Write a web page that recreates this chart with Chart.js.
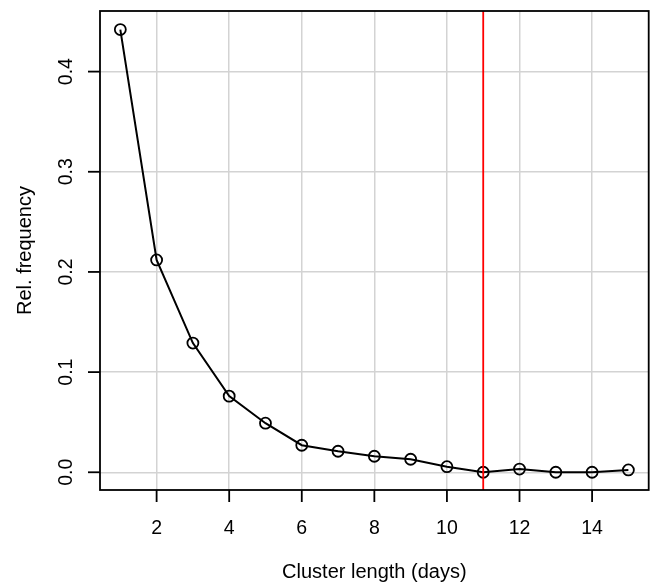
<!DOCTYPE html>
<html><head><meta charset="utf-8">
<script src="https://cdn.jsdelivr.net/npm/chart.js@4/dist/chart.umd.min.js"></script>
<style>html,body{margin:0;padding:0;background:#fff}#wrap{width:656px;height:584px}</style>
</head><body><div id="wrap"><canvas id="c" width="656" height="584"></canvas></div>
<script>
const clusterLength = [1,2,3,4,5,6,7,8,9,10,11,12,13,14,15];
const relFrequency = [0.442,0.212,0.129,0.076,0.049,0.027,0.021,0.016,0.013,0.0056,0.0,0.0032,0.0,0.0,0.0023];
const xTicks = [2,4,6,8,10,12,14];
const yTicks = [0.0,0.1,0.2,0.3,0.4];
const yTickLabels = ["0.0","0.1","0.2","0.3","0.4"];
const cutoff = 11;
const xTitle = "Cluster length (days)";
const yTitle = "Rel. frequency";

const FONT = '"Liberation Sans", Arial, Helvetica, sans-serif';

const rPlot = {
  id: 'rPlot',
  afterDatasetsDraw(chart) {
    const {ctx, chartArea: a, scales: {x, y}} = chart;
    ctx.save();
    const rx = x.getPixelForValue(cutoff);
    ctx.strokeStyle = '#ff0000'; ctx.lineWidth = 1.8;
    ctx.beginPath(); ctx.moveTo(rx, a.top); ctx.lineTo(rx, a.bottom); ctx.stroke();
    ctx.strokeStyle = '#000'; ctx.lineWidth = 1.8;
    ctx.strokeRect(a.left, a.top, a.right - a.left, a.bottom - a.top);
    ctx.fillStyle = '#000';
    ctx.font = '19.5px ' + FONT;
    ctx.textAlign = 'center'; ctx.textBaseline = 'middle';
    xTicks.forEach(v => {
      const px = x.getPixelForValue(v);
      ctx.beginPath(); ctx.moveTo(px, a.bottom); ctx.lineTo(px, a.bottom + 12); ctx.stroke();
      ctx.fillText(String(v), px, a.bottom + 39);
    });
    yTicks.forEach((v, i) => {
      const py = y.getPixelForValue(v);
      ctx.beginPath(); ctx.moveTo(a.left, py); ctx.lineTo(a.left - 12, py); ctx.stroke();
      ctx.save(); ctx.translate(a.left - 33, py); ctx.rotate(-Math.PI / 2);
      ctx.fillText(yTickLabels[i], 0, 0); ctx.restore();
    });
    ctx.font = '20px ' + FONT;
    ctx.fillText(xTitle, (a.left + a.right) / 2, a.bottom + 82);
    ctx.save(); ctx.translate(25, (a.top + a.bottom) / 2); ctx.rotate(-Math.PI / 2);
    ctx.fillText(yTitle, 0, 0); ctx.restore();
    ctx.restore();
  }
};

new Chart(document.getElementById('c'), {
  type: 'line',
  data: {
    datasets: [{
      data: clusterLength.map((c, i) => ({x: c, y: relFrequency[i]})),
      borderColor: '#000', borderWidth: 2,
      pointRadius: 5.5, pointBorderWidth: 1.8,
      pointBorderColor: '#000', pointBackgroundColor: 'rgba(0,0,0,0)',
      tension: 0, fill: false
    }]
  },
  options: {
    responsive: false, animation: false,
    layout: {padding: {left: 0, top: 11, right: 6, bottom: 0}},
    plugins: {legend: {display: false}, tooltip: {enabled: false}},
    scales: {
      x: {
        type: 'linear', min: 0.44, max: 15.56,
        afterBuildTicks: s => { s.ticks = xTicks.map(v => ({value: v})); },
        afterFit: s => { s.height = 94; },
        ticks: {display: false},
        grid: {color: '#d3d3d3', lineWidth: 1.5, drawTicks: false},
        border: {display: false}
      },
      y: {
        type: 'linear', min: -0.0177, max: 0.4605,
        afterBuildTicks: s => { s.ticks = yTicks.map(v => ({value: v})); },
        afterFit: s => { s.width = 100; },
        ticks: {display: false},
        grid: {color: '#d3d3d3', lineWidth: 1.5, drawTicks: false},
        border: {display: false}
      }
    }
  },
  plugins: [rPlot]
});
</script></body></html>
